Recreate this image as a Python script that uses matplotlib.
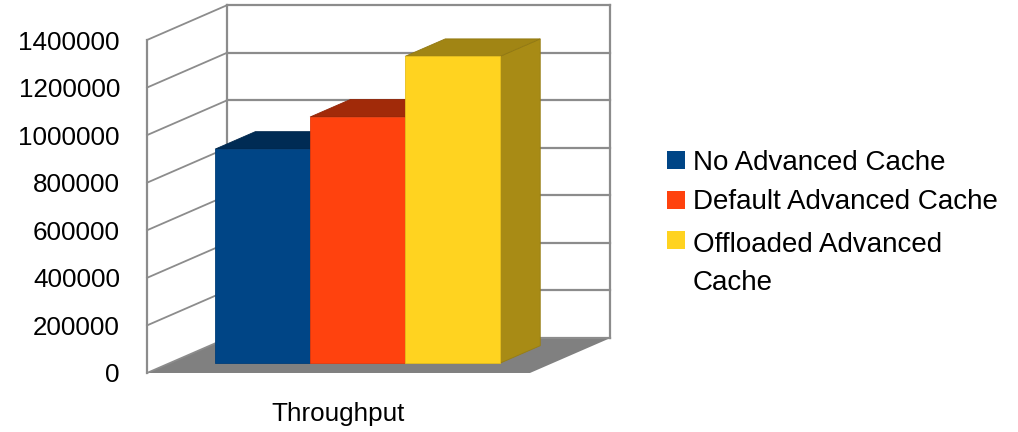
import numpy as np
import matplotlib
matplotlib.use('Agg')
import matplotlib.pyplot as plt
from matplotlib.patches import Polygon, Rectangle
import matplotlib.colors as mcolors

plt.rcParams['font.family'] = ['Liberation Sans', 'DejaVu Sans']

# data
category = 'Throughput'
series = ['No Advanced Cache', 'Default Advanced Cache', 'Offloaded Advanced\nCache']
values = [900000, 1035000, 1290000]
colors = ['#004586', '#ff420e', '#ffd320']
yticks = [0, 200000, 400000, 600000, 800000, 1000000, 1200000, 1400000]

y_max = 1400000
depth_x = 0.21        # horizontal shift of the back plane (axis units)
depth_y = 147000      # vertical shift of the back plane (value units)
bar_z = (0.28, 0.78)  # front / back depth of the bars
bar_left = 0.119
bar_width = 0.248
grid_color = '#8c8c8c'
floor_color = '#808080'


def shift(pts, z):
    return [(x + z * depth_x, y + z * depth_y) for x, y in pts]


def shade(color, k):
    r, g, b = mcolors.to_rgb(color)
    return (r * k, g * k, b * k)


fig = plt.figure(figsize=(10.18, 4.32), dpi=100)
ax = fig.add_axes([0.1444, 0.1366, 0.3762, 0.7708])
ax.set_xlim(0, 1)
ax.set_ylim(0, y_max)
for s in ax.spines.values():
    s.set_visible(False)

# floor
floor = [(0, 0), (1, 0), (1, 0), (0, 0)]
ax.add_patch(Polygon(floor[:2] + shift(floor[2:], 1), closed=True,
                     facecolor=floor_color, edgecolor='none', clip_on=False, zorder=1))

# walls and grid
for v in yticks:
    (x0, y0), (x1, y1) = shift([(0, v), (1, v)], 1)
    ax.plot([x0, x1], [y0, y1], color=grid_color, lw=1.6, clip_on=False, zorder=2)
    ax.plot([0, x0], [v, y0], color=grid_color, lw=1.3, clip_on=False, zorder=2)
ax.plot([0, 0], [0, y_max], color=grid_color, lw=1.6, clip_on=False, zorder=2)
for xe in (0, 1):
    (xa, ya), (xb, yb) = shift([(xe, 0), (xe, y_max)], 1)
    ax.plot([xa, xb], [ya, yb], color=grid_color, lw=1.6, clip_on=False, zorder=2)

# bars, left to right so each front face hides the previous side
z0, z1 = bar_z
for i, (v, c) in enumerate(zip(values, colors)):
    l = bar_left + i * bar_width
    r = l + bar_width
    front = shift([(l, 0), (r, 0), (r, v), (l, v)], z0)
    top = shift([(l, v), (r, v)], z0) + shift([(r, v), (l, v)], z1)
    side = shift([(r, 0)], z0) + shift([(r, 0), (r, v)], z1) + shift([(r, v)], z0)
    for pts, col in ((side, shade(c, 0.66)), (top, shade(c, 0.63)), (front, c)):
        ax.add_patch(Polygon(pts, closed=True, facecolor=col, edgecolor=shade(col, 0.9),
                             lw=0.6, clip_on=False, zorder=3 + i))

ax.set_yticks(yticks, [str(t) for t in yticks])
ax.set_xticks([0.5], [category])
ax.tick_params(axis='y', length=0, pad=19.5, labelsize=18.7)
ax.tick_params(axis='x', length=0, pad=21, labelsize=18.7)

# legend
leg_x = 667 / 1018
leg_y = 1 - 160 / 432
row = 40 / 432
sq_w, sq_h = 18 / 1018, 18 / 432
for i, (name, c) in enumerate(zip(series, colors)):
    yc = leg_y - i * row
    fig.add_artist(Rectangle((leg_x, yc - sq_h / 2), sq_w, sq_h, transform=fig.transFigure,
                             facecolor=c, edgecolor='none'))
    # baseline alignment uses the last line, so lift wrapped labels
    extra = name.count('\n') * row
    fig.text(leg_x + 26 / 1018, yc - 9.5 / 432 - extra, name, fontsize=20,
             va='baseline', ha='left', linespacing=1.57)

fig.savefig('out.png', dpi=100)
